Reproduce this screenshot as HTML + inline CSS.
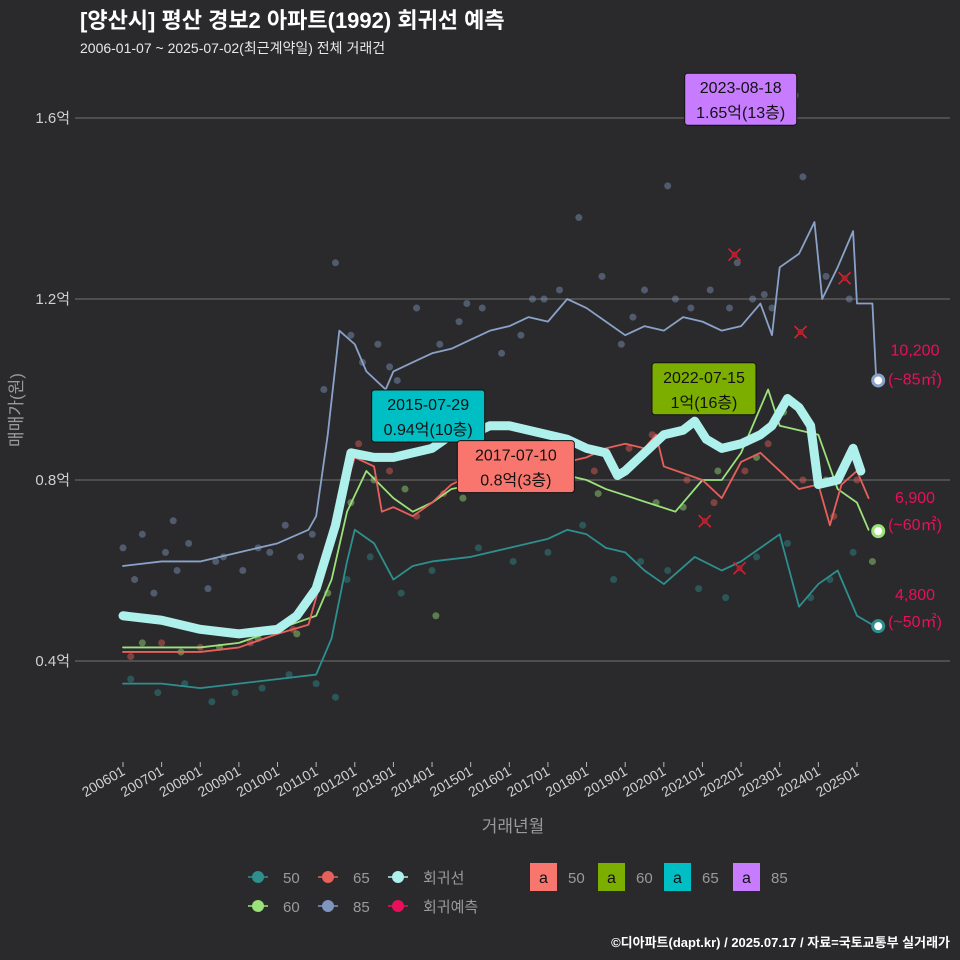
<!DOCTYPE html>
<html><head><meta charset="utf-8"><style>
html,body{margin:0;padding:0;background:#2a2a2c;}
svg{display:block;font-family:"Liberation Sans","Noto Sans CJK KR",sans-serif;}
</style></head><body>
<svg id="c" width="960" height="960" viewBox="0 0 960 960" xmlns="http://www.w3.org/2000/svg">
<rect width="960" height="960" fill="#2a2a2c"/>
<text x="80" y="28" fill="#ffffff" font-size="22" font-weight="bold">[양산시] 평산 경보2 아파트(1992) 회귀선 예측</text>
<text x="80" y="53" fill="#e8e8e8" font-size="14">2006-01-07 ~ 2025-07-02(최근계약일) 전체 거래건</text>
<g id="grid"></g><g id="dots"></g><g id="lines"></g><g id="ann"></g><g id="axes"></g>
<text x="22" y="410" fill="#9a9a9a" font-size="17" transform="rotate(-90 22 410)" text-anchor="middle">매매가(원)</text>
<text x="513" y="832" fill="#9a9a9a" font-size="17" text-anchor="middle">거래년월</text>
<text x="950" y="947" fill="#ffffff" font-size="13" font-weight="bold" text-anchor="end">©디아파트(dapt.kr) / 2025.07.17 / 자료=국토교통부 실거래가</text>
<g id="legend"></g>
</svg>
<script>
const yTicks=[0.4,0.8,1.2,1.6];
const xTickLabels=["200601","200701","200801","200901","201001","201101","201201","201301","201401","201501","201601","201701","201801","201901","202001","202101","202201","202301","202401","202501"];
const s85T=[2006,2007,2008,2009,2010,2010.8,2011,2011.3,2011.6,2012,2012.3,2012.8,2013,2013.5,2014,2014.5,2015,2015.5,2016,2016.5,2017,2017.5,2018,2018.5,2019,2019.5,2020,2020.5,2021,2021.5,2022,2022.5,2022.8,2023,2023.5,2023.9,2024.1,2024.5,2024.9,2025,2025.4,2025.5];
const s85V=[0.61,0.62,0.62,0.64,0.66,0.69,0.72,0.9,1.13,1.1,1.04,1.0,1.04,1.06,1.08,1.09,1.11,1.13,1.14,1.16,1.15,1.2,1.18,1.15,1.12,1.14,1.13,1.16,1.15,1.13,1.14,1.19,1.12,1.27,1.3,1.37,1.2,1.27,1.35,1.19,1.19,1.02];
const s65T=[2006,2008,2009,2010,2010.8,2011.2,2011.6,2012,2012.5,2012.7,2013,2013.5,2014,2014.5,2015,2015.5,2016,2016.5,2017,2017.5,2018,2018.5,2019,2019.5,2019.8,2020,2021,2021.5,2022,2022.5,2023,2023.5,2024,2024.3,2024.6,2025,2025.3];
const s65V=[0.42,0.42,0.43,0.46,0.48,0.6,0.74,0.85,0.83,0.73,0.74,0.72,0.75,0.79,0.81,0.83,0.84,0.84,0.86,0.84,0.85,0.87,0.88,0.87,0.9,0.83,0.8,0.76,0.84,0.86,0.82,0.78,0.79,0.7,0.79,0.82,0.76];
const s60T=[2006,2008,2009,2010,2011,2011.4,2011.8,2012.3,2013,2013.5,2014,2014.5,2017,2018,2018.5,2020.3,2021,2021.5,2022,2022.7,2023,2024,2024.5,2025,2025.3];
const s60V=[0.43,0.43,0.44,0.47,0.5,0.58,0.73,0.82,0.76,0.73,0.75,0.78,0.82,0.8,0.78,0.73,0.8,0.8,0.86,1.0,0.92,0.9,0.78,0.75,0.69];
const s50T=[2006,2007,2008,2009,2010,2011,2011.4,2011.8,2012,2012.5,2013,2013.5,2014,2015,2016,2016.5,2017,2017.5,2018,2018.5,2019,2019.5,2020,2020.8,2021.5,2022,2022.5,2023,2023.5,2024,2024.5,2025,2025.4];
const s50V=[0.35,0.35,0.34,0.35,0.36,0.37,0.45,0.62,0.69,0.66,0.58,0.61,0.62,0.63,0.65,0.66,0.67,0.69,0.68,0.65,0.64,0.6,0.57,0.63,0.6,0.62,0.65,0.68,0.52,0.57,0.6,0.5,0.48];
const regT=[2006,2007,2008,2009,2010,2010.5,2011,2011.5,2011.9,2012.5,2013,2013.5,2014,2014.5,2015,2015.5,2016,2016.5,2017,2017.5,2018,2018.5,2018.8,2019,2019.5,2020,2020.5,2020.8,2021.1,2021.5,2022,2022.5,2022.8,2023.2,2023.5,2023.8,2024,2024.5,2024.9,2025.1];
const regV=[0.5,0.49,0.47,0.46,0.47,0.5,0.56,0.7,0.86,0.85,0.85,0.86,0.87,0.9,0.9,0.92,0.92,0.91,0.9,0.89,0.87,0.86,0.81,0.82,0.86,0.9,0.91,0.93,0.89,0.87,0.88,0.9,0.92,0.98,0.96,0.92,0.79,0.8,0.87,0.82];
const d85T=[2006,2006.3,2006.5,2006.8,2007.1,2007.4,2007.7,2008.2,2008.6,2009.1,2009.5,2010.2,2010.6,2011.2,2011.5,2011.9,2012.2,2012.6,2013.1,2013.6,2014.2,2014.7,2015.3,2015.8,2016.3,2016.9,2017.3,2017.8,2018.4,2018.9,2019.5,2020.1,2020.3,2020.7,2021.2,2021.7,2022.3,2022.8,2023.4,2023.6,2024.2,2024.8,2007.3,2008.4,2009.8,2010.9,2012.9,2014.9,2016.6,2019.2,2021.9,2022.6];
const d85V=[0.65,0.58,0.68,0.55,0.64,0.6,0.66,0.56,0.63,0.6,0.65,0.7,0.63,1.0,1.28,1.12,1.06,1.1,1.02,1.18,1.1,1.15,1.18,1.08,1.12,1.2,1.22,1.38,1.25,1.1,1.22,1.45,1.2,1.18,1.22,1.18,1.2,1.18,1.65,1.47,1.25,1.2,0.71,0.62,0.64,0.68,1.05,1.19,1.2,1.16,1.28,1.21];
const d65T=[2006.2,2007,2008,2009.3,2010.4,2011.2,2011.7,2012.1,2012.9,2013.6,2014.3,2015.1,2016,2016.7,2017.4,2018.2,2019.1,2019.7,2020.6,2021.3,2022.1,2022.7,2023.6,2024.4,2025];
const d65V=[0.41,0.44,0.43,0.44,0.47,0.62,0.78,0.88,0.82,0.72,0.77,0.85,0.83,0.88,0.84,0.82,0.87,0.9,0.8,0.75,0.82,0.88,0.8,0.72,0.8];
const d60T=[2006.5,2007.5,2008.5,2009.5,2010.5,2011.3,2011.9,2012.5,2013.3,2014.1,2014.8,2016.2,2017.5,2018.3,2019.8,2020.5,2021.4,2022.4,2023.1,2024.2,2025.4];
const d60V=[0.44,0.42,0.43,0.45,0.46,0.55,0.75,0.8,0.78,0.5,0.76,0.8,0.81,0.77,0.75,0.74,0.82,0.85,0.95,0.8,0.62];
const d50T=[2006.2,2006.9,2007.6,2008.3,2008.9,2009.6,2010.3,2011,2011.5,2011.8,2012.4,2013.2,2014,2015.2,2016.1,2017,2017.9,2018.7,2019.4,2020.1,2020.9,2021.6,2022.4,2023.2,2023.8,2024.3,2024.9];
const d50V=[0.36,0.33,0.35,0.31,0.33,0.34,0.37,0.35,0.32,0.58,0.63,0.55,0.6,0.65,0.62,0.64,0.7,0.58,0.62,0.6,0.56,0.54,0.63,0.66,0.54,0.58,0.64];
const predT=[2021.83,2023.54,2024.68,2021.06,2021.96];
const predV=[1.298,1.127,1.246,0.709,0.605];
const endT=[2025.55,2025.55,2025.55];
const endV=[1.02,0.687,0.477];
const endLab=["10,200","6,900","4,800"];
const endSub=["(~85㎡)","(~60㎡)","(~50㎡)"];
const annT=[2021.99,2013.9,2016.17,2021.04];
const annV=[1.699,0.999,0.887,1.059];
const annTxt=[["2023-08-18","1.65억(13층)"],["2015-07-29","0.94억(10층)"],["2017-07-10","0.8억(3층)"],["2022-07-15","1억(16층)"]];
const annCol=["#c77cff","#00bfc4","#f8766d","#7cae00"];

const NS="http://www.w3.org/2000/svg";
const X=t=>123+(t-2006)*38.63;
const Y=v=>661-(v-0.4)*452.5;
function mk(tag,at,par){const e=document.createElementNS(NS,tag);for(const k in at)e.setAttribute(k,at[k]);document.getElementById(par).appendChild(e);return e;}
yTicks.forEach((v,i)=>{
 const l=mk('line',{x1:75,x2:950,y1:Y(v),y2:Y(v),stroke:'#8a8a8a','stroke-width':0.8},'grid');
 
 
 const t=mk('text',{x:70,y:Y(v)+5,fill:'#d0d0d0','font-size':15,'text-anchor':'end'},'axes');
 t.textContent=v+'억';
 
 
});
xTickLabels.forEach((s,i)=>{
 const x=X(2006+i);
 const l=mk('line',{x1:x,x2:x,y1:762,y2:767,stroke:'#bbb'},'axes');
 
 
 const t=mk('text',{x:x+3,y:774,fill:'#d0d0d0','font-size':14,'text-anchor':'end',transform:`rotate(-30 ${x+3} 774)`},'axes');
 t.textContent=s;
 
 
});
function dots(T,V,col,name){T.forEach((t,i)=>{const c=mk('circle',{cx:X(t),cy:Y(V[i]),r:3.5,fill:col,'fill-opacity':0.45},'dots');
 
 });}
dots(d85T,d85V,'#7f96bf','dot-85');dots(d65T,d65V,'#e8605a','dot-65');dots(d60T,d60V,'#9be27a','dot-60');dots(d50T,d50V,'#2e8f8f','dot-50');
function line(T,V,col,w,name){const p=mk('polyline',{points:T.map((t,i)=>X(t)+','+Y(V[i])).join(' '),fill:'none',stroke:col,'stroke-width':w,'stroke-linejoin':'round','stroke-linecap':'round'},'lines');
 
 }
line(s50T,s50V,'#2e8f8f',1.8,'line-50');line(s60T,s60V,'#9be27a',1.8,'line-60');line(s65T,s65V,'#e8605a',1.8,'line-65');
line(regT,regV,'#aef0ec',9,'regression-line');line(s85T,s85V,'#8aa2c8',1.8,'line-85');
predT.forEach((t,i)=>{const x=X(t),y=Y(predV[i]);
 const p=mk('path',{d:`M${x-6} ${y-6}L${x+6} ${y+6}M${x+6} ${y-6}L${x-6} ${y+6}`,stroke:'#e02030','stroke-width':1.5},'lines');
 
 
 const c=mk('circle',{cx:x,cy:y,r:3,fill:'#b02030'},'lines');
 
 });
const endCols=['#8aa2c8','#9be27a','#2e8f8f'];
endT.forEach((t,i)=>{const x=X(t),y=Y(endV[i]);
 const c=mk('circle',{cx:x,cy:y,r:5.5,fill:'#fff',stroke:endCols[i],'stroke-width':3},'ann');
 
 
 const a=mk('text',{x:915,y:y-[28,33,31][i]+5+[-2,0,0][i],fill:'#e8105a','font-size':16,'text-anchor':'middle'},'ann');a.textContent=endLab[i];
 
 
 const b=mk('text',{x:915,y:y-[28,33,31][i]+32,fill:'#e8105a','font-size':16,'text-anchor':'middle'},'ann');b.textContent=endSub[i];
 
 });
annT.forEach((t,i)=>{const cx=X(t);const w=[112,113,117,104][i];const top=Y(annV[i]);
 const r=mk('rect',{x:cx-w/2,y:top,width:w,height:52,rx:3,fill:annCol[i],stroke:'#111','stroke-width':1},'ann');
 
 
 annTxt[i].forEach((s,j)=>{const tx=mk('text',{x:cx,y:top+20+j*25,fill:'#111','font-size':16,'text-anchor':'middle'},'ann');tx.textContent=s;
 
 });});
const legItems=[['50','#2e8f8f',258,877],['65','#e8605a',328,877],['회귀선','#aef0ec',398,877],['60','#9be27a',258,906],['85','#7f96bf',328,906],['회귀예측','#e8105a',398,906]];
legItems.forEach(it=>{const [lab,col,x,y]=it;
 const l=mk('line',{x1:x-10,x2:x+10,y1:y,y2:y,stroke:col,'stroke-width':1.5},'legend');
 
 
 const c=mk('circle',{cx:x,cy:y,r:6,fill:col},'legend');
 
 
 const t=mk('text',{x:x+25,y:y+6,fill:'#9a9a9a','font-size':15},'legend');t.textContent=lab;
 
 });
const boxItems=[['50','#f8766d',530],['60','#7cae00',598],['65','#00bfc4',664],['85','#c77cff',733]];
boxItems.forEach(it=>{const [lab,col,x]=it;
 const r=mk('rect',{x:x,y:863,width:27,height:28,fill:col},'legend');
 
 
 const a=mk('text',{x:x+13.5,y:883,fill:'#111','font-size':16,'text-anchor':'middle'},'legend');a.textContent='a';
 
 
 const t=mk('text',{x:x+38,y:883,fill:'#9a9a9a','font-size':15},'legend');t.textContent=lab;
 
 });
</script>
</body></html>
